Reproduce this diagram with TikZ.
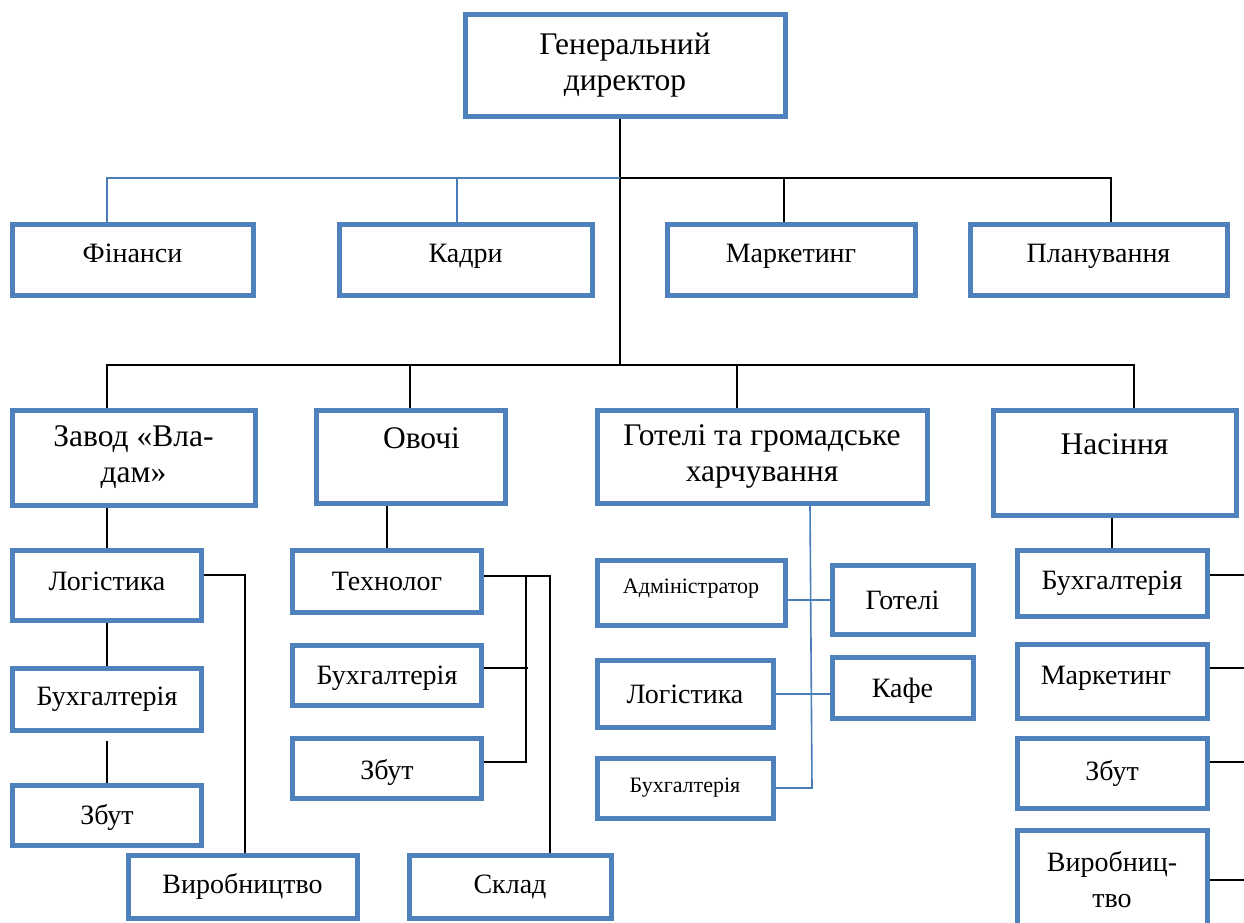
\documentclass[tikz,border=0pt]{standalone}
\usepackage{fontspec}
\setmainfont{Liberation Serif}
\usetikzlibrary{calc}
\definecolor{boxblue}{RGB}{79,129,189}
\definecolor{lineblue}{RGB}{74,126,187}
\newcommand\mvtxt[2]{\raisebox{#1}[\height][\depth]{#2}}
\tikzset{
  box/.style={draw=boxblue, line width=5pt, fill=white, inner sep=0pt, align=center,
    font=\fontsize{28}{36}\selectfont},
  bigtxt/.style={font=\fontsize{31.5}{36}\selectfont},
  smalltxt/.style={font=\fontsize{22}{28}\selectfont},
  rowtwo/.style={text height=19pt, text depth=12.5pt},
  bl/.style={line width=1.8pt, black},
  blu/.style={line width=1.6pt, lineblue}
}
\begin{document}
\begin{tikzpicture}[x=1pt,y=-1pt]
\fill[white] (0,0) rectangle (1244,922);
\useasboundingbox (0,0) rectangle (1244,922);
\coordinate (j1) at (620,178);
\coordinate (j2) at (620,365);
\path (625,65) node[box, bigtxt, minimum width=320pt, minimum height=102pt] (gd) {Генеральний\\директор};
\draw[bl] (620,0 |- gd.south) -- (j2);
\path
 (132.5,259.5) node[box, rowtwo, minimum width=241pt, minimum height=71pt] (fin) {Фінанси}
 (465.5,259.5) node[box, rowtwo, minimum width=253pt, minimum height=71pt] (kad) {Кадри}
 (791,259.5) node[box, rowtwo, minimum width=248pt, minimum height=71pt] (mar) {Маркетинг}
 (1098.5,259.5) node[box, rowtwo, minimum width=257pt, minimum height=71pt] (pla) {Планування};
\draw[blu] (j1) -| (107,0 |- fin.north);
\draw[blu] (j1 -| 457,0) -- (457,0 |- kad.north);
\draw[bl] (j1) -| (1111,0 |- pla.north);
\draw[bl] (j1 -| 784,0) -- (784,0 |- mar.north);
% row 3
\path
 (133.5,457.5) node[box, bigtxt, minimum width=243pt, minimum height=95pt] (zav) {Завод «Вла-\\дам»}
 (410.5,456.5) node[box, bigtxt, minimum width=189pt, minimum height=93pt] (ovo) {\hspace*{22pt}Овочі\\\mbox{}}
 (762,456.5) node[box, bigtxt, minimum width=330pt, minimum height=93pt] (got) {Готелі та громадське\\харчування}
 (1114.5,462.5) node[box, bigtxt, minimum width=243pt, minimum height=105pt] (nas) {Насіння\\\mbox{}};
\draw[bl] (107,0 |- zav.north) |- (j2) -| (1134,0 |- nas.north);
\draw[bl] (j2 -| 410,0) -- (410,0 |- ovo.north);
\draw[bl] (j2 -| 737,0) -- (737,0 |- got.north);
% Zavod branch
\path
 (107,585) node[box, minimum width=189pt, minimum height=70pt] (zlog) {\mvtxt{4pt}{Логістика}}
 (107,699) node[box, minimum width=189pt, minimum height=62pt] (zbuh) {Бухгалтерія}
 (107,815) node[box, minimum width=189pt, minimum height=60pt] (zzb) {\mvtxt{-2pt}{Збут}}
 (242.5,886.5) node[box, minimum width=229pt, minimum height=63pt] (zvyr) {Виробництво};
\draw[bl] (zlog.north |- zav.south) -- (zlog.north);
\draw[bl] (zlog.south) -- (zbuh.north);
\draw[bl, shorten <=8pt] (zbuh.south) -- (zzb.north);
\draw[bl] ($(zlog.east)+(0,-10)$) -| (245,0 |- zvyr.north);
% Ovochi branch
\path
 (387,581) node[box, minimum width=189pt, minimum height=62pt] (otex) {Технолог}
 (387,675) node[box, minimum width=189pt, minimum height=60pt] (obuh) {\mvtxt{-3pt}{Бухгалтерія}}
 (387,768) node[box, minimum width=189pt, minimum height=60pt] (ozb) {\mvtxt{-4pt}{Збут}}
 (510,886.5) node[box, minimum width=202pt, minimum height=63pt] (osk) {Склад};
\coordinate (ot) at ($(otex.east)+(0,-5)$);
\draw[bl] (otex.north |- ovo.south) -- (otex.north);
\draw[bl] (ot) -| (550,0 |- osk.north);
\draw[bl] ($(obuh.east)+(0,-7)$) -- ($(obuh.east)+(44,-7)$);
\draw[bl] ($(ozb.east)+(0,-6)$) -| (ot -| 526,0);
% Hotels branch
\path
 (691,592.5) node[box, smalltxt, minimum width=188pt, minimum height=65pt] (gadm) {\mvtxt{4pt}{Адміністратор}}
 (902.5,600) node[box, minimum width=141pt, minimum height=69pt] (ggot) {Готелі}
 (685,694) node[box, minimum width=176pt, minimum height=67pt] (glog) {Логістика}
 (902.5,687.5) node[box, minimum width=141pt, minimum height=61pt] (gkaf) {\mvtxt{-3pt}{Кафе}}
 (685,788) node[box, smalltxt, minimum width=176pt, minimum height=60pt] (gbuh) {Бухгалтерія};
\draw[blu] (810,0 |- got.south) -- (812,0 |- gbuh.east) -- (gbuh.east);
\draw[blu] (gadm.east |- ggot.west) -- (ggot.west);
\draw[blu] (glog.east) -- (gkaf.west |- glog.east);
% Nasinnia branch
\path
 (1112,583) node[box, minimum width=190pt, minimum height=66pt] (nbuh) {Бухгалтерія}
 (1112,681) node[box, minimum width=190pt, minimum height=74pt] (nmar) {\mvtxt{3pt}{Маркетинг}\hspace*{12pt}}
 (1112,773) node[box, minimum width=190pt, minimum height=70pt] (nzb) {Збут}
 (1112,880) node[box, minimum width=190pt, minimum height=100pt] (nvyr) {Виробниц-\\тво};
\draw[bl] (nbuh.north |- nas.south) -- (nbuh.north);
\draw[bl] ($(nbuh.east)+(0,-8)$) -- ($(nbuh.east)+(40,-8)$);
\draw[bl] ($(nmar.east)+(0,-13)$) -- ($(nmar.east)+(40,-13)$);
\draw[bl] ($(nzb.east)+(0,-11)$) -- ($(nzb.east)+(40,-11)$);
\draw[bl] (nvyr.east) -- ($(nvyr.east)+(40,0)$);
\end{tikzpicture}
\end{document}
